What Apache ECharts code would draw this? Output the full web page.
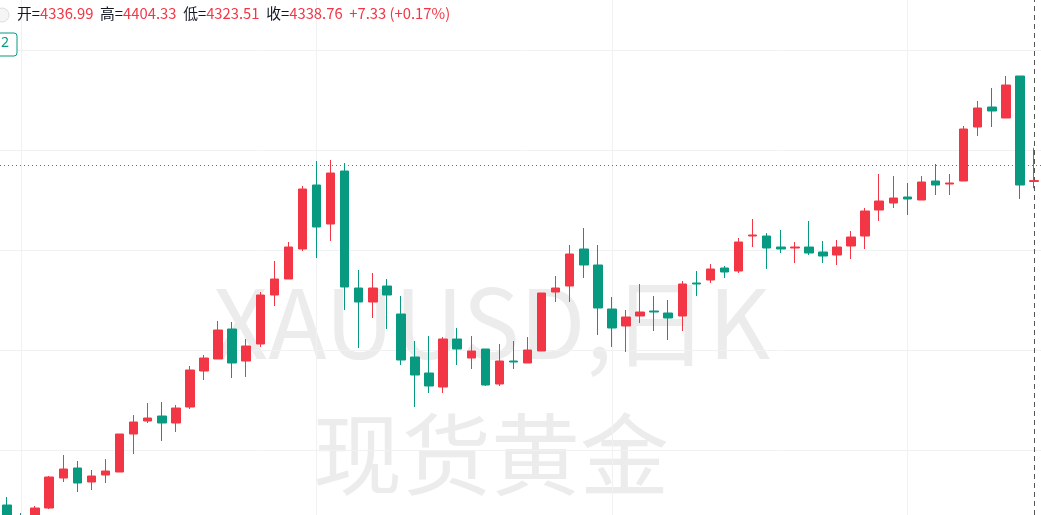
<!DOCTYPE html>
<html><head><meta charset="utf-8">
<script src="https://cdn.jsdelivr.net/npm/echarts@6/dist/echarts.min.js"></script>
<style>html,body{margin:0;padding:0;background:#fff}#c{width:1041px;height:515px}</style>
</head><body><div id="c"></div>
<script>
const opens  = [3690,3666,3660,3684,3744,3764,3736,3750,3756,3832,3858,3868,3854,3886,3958,3982,4042,3978,4012,4110,4142,4202,4330,4252,4358,4124,4096,4128,4072,3986,3954,3926,4022,3984,4002,3932,3978,3974,3998,4116,4128,4202,4170,4082,4048,4068,4078,4074,4068,4134,4140,4164,4158,4228,4228,4206,4204,4206,4196,4190,4208,4228,4280,4294,4306,4300,4338,4332,4338,4446,4486,4464,4548,4336.99];
const closes = [3664,3650,3684,3746,3762,3734,3748,3758,3832,3856,3864,3854,3884,3960,3984,4040,3974,4008,4110,4142,4206,4322,4246,4354,4126,4096,4124,4110,3980,3950,3928,4022,4002,3998,3930,3978,3976,4000,4114,4124,4192,4170,4084,4044,4066,4076,4076,4064,4132,4132,4162,4156,4216,4230,4204,4202,4206,4194,4188,4206,4226,4278,4298,4304,4302,4336,4330,4334,4442,4484,4478,4530,4330,4338.76];
const lows   = [3660,3644,3656,3682,3736,3716,3720,3734,3756,3792,3854,3818,3836,3882,3940,3982,3944,3946,4006,4088,4142,4198,4184,4218,4080,4004,4064,4042,3970,3886,3914,3914,3970,3962,3928,3928,3962,3974,3998,4096,4096,4144,4030,4006,3996,4054,4038,4020,4038,4108,4134,4144,4154,4206,4162,4194,4174,4190,4174,4170,4182,4202,4258,4284,4270,4300,4310,4310,4338,4428,4446,4464,4302,4323.51];
const highs  = [3706,3674,3688,3748,3790,3778,3760,3782,3832,3870,3894,3896,3890,3968,3990,4058,4056,4022,4116,4178,4216,4328,4378,4380,4374,4160,4154,4142,4108,4018,4028,4026,4044,4028,4002,4012,4018,4026,4114,4148,4210,4244,4210,4106,4080,4132,4108,4100,4138,4158,4172,4168,4224,4262,4234,4240,4216,4258,4218,4220,4238,4284,4352,4348,4334,4348,4372,4352,4448,4498,4524,4548,4548,4404.33];
const categories = opens.map((_, i) => 'D' + (i + 1));
const gridPrices = [3800, 4000, 4200, 4400, 4600];
const gridCats = ['D2', 'D23', 'D44', 'D65'];
const lastClose = 4370;
const UP = '#f23645', DOWN = '#089981';

const ohlc = opens.map((o, i) => [o, closes[i], lows[i], highs[i]]);
const chart = echarts.init(document.getElementById('c'));
chart.setOption({
  animation: false,
  grid: {left: -2, right: -4, top: 0, bottom: 0},
  xAxis: {type: 'category', data: categories, boundaryGap: true,
    axisLine: {show: false}, axisTick: {show: false}, axisLabel: {show: false}, splitLine: {show: false}},
  yAxis: {type: 'value', min: 3670, max: 4700, axisLine: {show: false}, axisTick: {show: false},
    axisLabel: {show: false}, splitLine: {show: false}},
  graphic: [
    {type: 'text', left: 213, top: 275, z: 0, style: {text: 'XAUUSD,日K', fontSize: 96, fill: '#ececec', fontFamily: 'Noto Sans CJK SC'}},
    {type: 'text', left: 313, top: 410, z: 0, style: {text: '现货黄金', fontSize: 89, fill: '#ececec', fontFamily: 'Noto Sans CJK SC'}},
    {type: 'circle', shape: {cx: 2, cy: 15, r: 7}, style: {fill: '#f5f5f5', stroke: '#ddd'}, z: 10},
    {type: 'text', left: 17, top: 6, z: 10, style: {
      rich: {l: {fill: '#131722', fontSize: 14.8, fontFamily: 'Noto Sans CJK SC'}, v: {fill: UP, fontSize: 14.8, fontFamily: 'Noto Sans CJK SC'}},
      text: '{l|开=}{v|4336.99}  {l|高=}{v|4404.33}  {l|低=}{v|4323.51}  {l|收=}{v|4338.76}  {v|+7.33 (+0.17%)}'}},
    {type: 'rect', shape: {x: -5, y: 33, width: 22, height: 23, r: 3}, style: {fill: '#fff', stroke: '#089981', lineWidth: 1}, z: 10},
    {type: 'text', left: 1, top: 36, z: 11, style: {text: '2', fontSize: 14, fill: '#089981', fontFamily: 'Noto Sans'}}
  ],
  series: [{
    type: 'candlestick', data: ohlc, barWidth: 9, z: 5,
    itemStyle: {color: UP, color0: DOWN, borderColor: UP, borderColor0: DOWN, borderWidth: 1},
    markLine: {symbol: 'none', silent: true, label: {show: false}, animation: false,
      data: [
        ...gridPrices.map(p => ({yAxis: p, lineStyle: {color: '#f0f1f3', type: 'solid', width: 1}})),
        ...gridCats.map(c => ({xAxis: c, lineStyle: {color: '#f0f1f3', type: 'solid', width: 1}})),
        {yAxis: lastClose, lineStyle: {color: '#f23645', type: [1, 3], width: 1}},
        {xAxis: 'D74', lineStyle: {color: '#555', type: [5, 4], width: 1}}
      ]}
  }]
});
</script></body></html>
